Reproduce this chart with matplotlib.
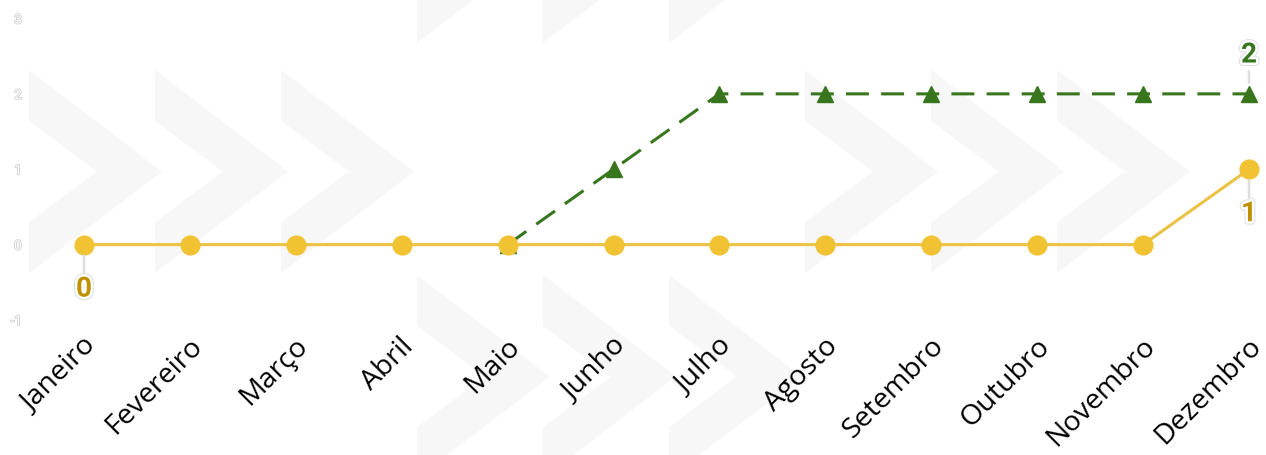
import numpy as np
import matplotlib
matplotlib.use("Agg")
import matplotlib.pyplot as plt
import matplotlib.patheffects as pe
from matplotlib.patches import Polygon
from matplotlib.transforms import ScaledTranslation

months = ["Janeiro", "Fevereiro", "Março", "Abril", "Maio", "Junho",
          "Julho", "Agosto", "Setembro", "Outubro", "Novembro", "Dezembro"]
serie_amarela = [0, 0, 0, 0, 0, 0, 0, 0, 0, 0, 0, 1]
serie_verde = [np.nan, np.nan, np.nan, np.nan, 0, 1, 2, 2, 2, 2, 2, 2]
y_ticks = [-1, 0, 1, 2, 3]

W, H = 1266, 455
fig = plt.figure(figsize=(W / 100, H / 100), dpi=100)
fig.patch.set_facecolor("white")

# background chevron watermark (pixel layout of the decoration)
def chevron(x0, y0, w=133, h=203, notch=68):
    pts = [(0, 0), (w, h / 2), (0, h), (0, h * 0.75), (notch, h / 2), (0, h * 0.25)]
    return [((x0 + px) / W, 1 - (y0 + py) / H) for px, py in pts]

for y0, xs in [(70, [29, 155, 281, 805, 931, 1057]),
               (-160, [417, 543, 669]),
               (275, [417, 543, 669])]:
    for x0 in xs:
        fig.patches.append(Polygon(chevron(x0, y0), closed=True, transform=fig.transFigure,
                                   facecolor="#f7f7f7", edgecolor="none", zorder=-5))

left_px, right_px = 30, 1266
top_px, bot_px = 18.5, 320
ax = fig.add_axes([left_px / W, 1 - bot_px / H, (right_px - left_px) / W, (bot_px - top_px) / H])
ax.set_zorder(1)
ax.patch.set_alpha(0)

x = np.arange(len(months))
step = (1249 - 84) / 11
ax.set_xlim(-(84 - left_px) / step, 11 + (right_px - 1249) / step)
ax.set_ylim(-1, 3)

ax.plot(x, serie_verde, color="#38761d", lw=2.2, ls=(0, (7.5, 4)),
        marker="^", markersize=11, zorder=3)
ax.plot(x, serie_amarela, color="#ebc244", lw=2.2, marker="o", markersize=13.5,
        markerfacecolor="#f1c232", markeredgecolor="#f1c232", zorder=4)

halo = [pe.Stroke(linewidth=5, foreground="#e0e0e0"), pe.Stroke(linewidth=3.5, foreground="white"), pe.Normal()]
leader = dict(arrowstyle="-", color="#dedede", lw=1.8, shrinkA=0, shrinkB=8)
ax.annotate("0", (0, serie_amarela[0]), xytext=(0, -32), textcoords="offset points",
            ha="center", va="center", fontsize=20, fontweight="bold", family="Roboto",
            color="#bf9000", path_effects=halo, arrowprops=leader, zorder=6)
ax.annotate("1", (11, serie_amarela[11]), xytext=(0, -32), textcoords="offset points",
            ha="center", va="center", fontsize=20, fontweight="bold", family="Roboto",
            color="#bf9000", path_effects=halo, arrowprops=leader, zorder=6)
ax.annotate("2", (11, serie_verde[11]), xytext=(0, 28), textcoords="offset points",
            ha="center", va="center", fontsize=20, fontweight="bold", family="Roboto",
            color="#38761d", path_effects=halo, arrowprops=leader, zorder=6)

for s in ax.spines.values():
    s.set_visible(False)

ax.set_yticks(y_ticks)
ax.set_yticklabels([str(v) for v in y_ticks])
ax.tick_params(axis="y", length=0, pad=6)
for t in ax.get_yticklabels():
    t.set_color("white")
    t.set_fontsize(9.5)
    t.set_family("Roboto")
    t.set_path_effects([pe.withStroke(linewidth=1.2, foreground="#cfcfcf")])

ax.set_xticks(x)
ax.set_xticklabels(months, rotation=45, ha="right", va="center", rotation_mode="anchor",
                   fontsize=20.5, family="Open Sans", color="black")
ax.tick_params(axis="x", length=0, pad=16)
offset = ScaledTranslation(8 / 100, 0, fig.dpi_scale_trans)
for t in ax.get_xticklabels():
    t.set_transform(t.get_transform() + offset)

fig.savefig("out.png", dpi=100)
